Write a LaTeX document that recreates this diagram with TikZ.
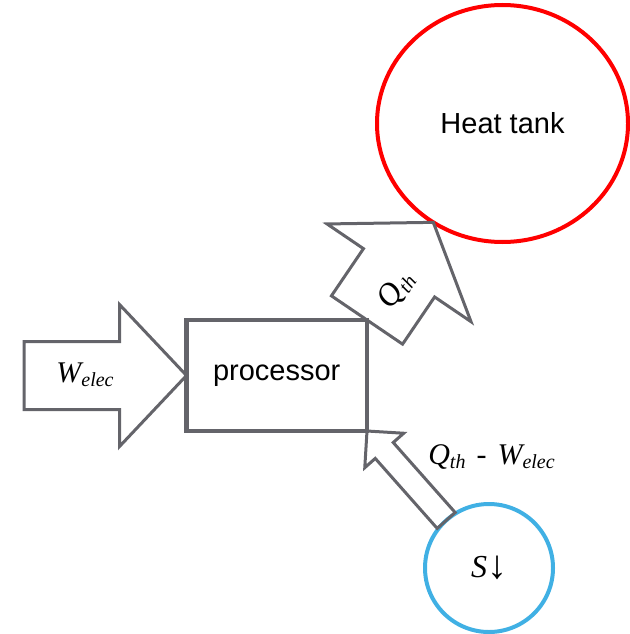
\documentclass[tikz,border=0pt]{standalone}
\usepackage{fontspec}
\setmainfont{Liberation Serif}
\setsansfont{Liberation Sans}
\usetikzlibrary{calc,shapes.geometric}

\definecolor{linegray}{RGB}{100,100,106}
\definecolor{tankred}{RGB}{255,0,0}
\definecolor{sourceblue}{RGB}{64,176,228}

\newcommand{\lowtext}[1]{\raisebox{-4.5pt}{\fontsize{20}{20}\selectfont #1}}

\tikzset{
  procbox/.style={draw=linegray, line width=4.5pt, outer sep=0pt,
    minimum width=180.5pt, minimum height=111pt,
    font=\sffamily\fontsize{29}{34}\selectfont},
  tankshape/.style={ellipse, draw=tankred, line width=4pt, outer sep=0pt,
    minimum width=251pt, minimum height=237pt,
    font=\sffamily\fontsize{29}{34}\selectfont},
  sourceshape/.style={circle, draw=sourceblue, line width=4pt, outer sep=0pt,
    fill=white, minimum size=128pt, font=\fontsize{32}{36}\selectfont},
  labeltext/.style={font=\fontsize{30}{36}\selectfont\itshape, inner sep=0pt},
  arrowline/.style={draw=linegray, line width=3pt, line join=miter},
  % #1 half shaft width, #2 half head width, #3 head length
  blockarrow/.style n args={3}{to path={
    ($(\tikztotarget)!#3!(\tikztostart)$) coordinate (bahead)
    ($(\tikztostart)!#1!90:(\tikztotarget)$)
    -- ($(bahead)!#1!90:(\tikztotarget)$)
    -- ($(bahead)!#2!90:(\tikztotarget)$)
    -- (\tikztotarget)
    -- ($(bahead)!#2!-90:(\tikztotarget)$)
    -- ($(bahead)!#1!-90:(\tikztotarget)$)
    -- ($(\tikztostart)!#1!-90:(\tikztotarget)$)
    -- cycle}}
}

\begin{document}
\begin{tikzpicture}[x=1pt, y=-1pt]
\useasboundingbox (0,0) rectangle (629,634);

% Nodes
\node[procbox] (proc) at (276.75,375.5) {processor};
\node[tankshape] (tank) at (502.5,123.5) {Heat tank};
\coordinate (welec tail) at (24,375.5);

% Block arrows
\draw[arrowline, blockarrow={34pt}{71pt}{67pt}] (welec tail) to (proc.west);
\draw[arrowline, blockarrow={43pt}{87pt}{61pt}] (proc.north east) to (tank.235);

% Entropy source
\node[sourceshape] (S) at (489,568) {\textit{S}\raisebox{-1pt}{\fontsize{40}{40}\selectfont ↓}};
\draw[arrowline, blockarrow={12pt}{26pt}{26pt}] (S.132) to (proc.south east);

% Labels
\node[labeltext, anchor=base] (welec label) at (85,382) {W\lowtext{elec}};
\node[labeltext, rotate=55, font=\fontsize{32}{36}\selectfont\itshape] (qth label) at (396,290) {Q\lowtext{th}};
\node[labeltext, anchor=base] (balance label) at (491.5,464)
  {Q\lowtext{th}\hspace{11pt}\upshape-\itshape\hspace{11pt}W\lowtext{elec}};

\end{tikzpicture}
\end{document}
